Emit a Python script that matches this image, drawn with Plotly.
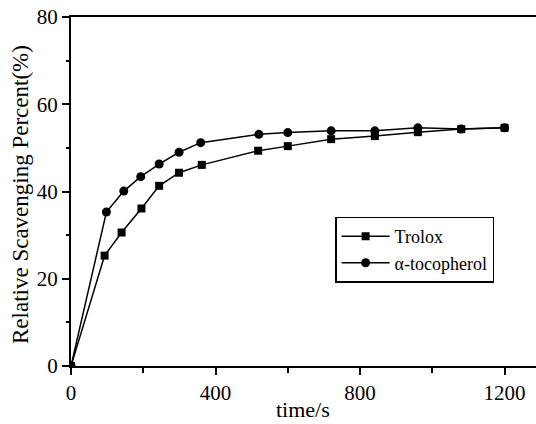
import plotly.graph_objects as go

trolox_t = [0, 93, 140, 195, 244, 299, 362, 518, 600, 720, 841, 960, 1080, 1200]
trolox_v = [0, 25.3, 30.6, 36.1, 41.3, 44.3, 46.1, 49.35, 50.4, 52.0, 52.7, 53.6, 54.3, 54.6]
toco_t = [0, 98, 146, 193, 244, 299, 359, 520, 600, 720, 841, 960, 1080, 1200]
toco_v = [0, 35.3, 40.1, 43.4, 46.3, 49.0, 51.2, 53.1, 53.5, 53.9, 53.9, 54.6, 54.3, 54.6]

font = "Liberation Serif"
fig = go.Figure()
fig.add_trace(go.Scatter(x=trolox_t, y=trolox_v, mode="lines+markers", name="Trolox",
                         line=dict(color="black", width=1.5),
                         marker=dict(symbol="square", size=8, color="black")))
fig.add_trace(go.Scatter(x=toco_t, y=toco_v, mode="lines+markers", name="α-tocopherol",
                         line=dict(color="black", width=1.5),
                         marker=dict(symbol="circle", size=9, color="black")))

fig.update_layout(
    width=536, height=424,
    margin=dict(l=71, r=0, t=17, b=58),
    paper_bgcolor="white", plot_bgcolor="white",
    font=dict(family=font, color="black"),
    showlegend=True,
    legend=dict(x=0.568, y=0.428, xanchor="left", yanchor="top",
                bordercolor="black", borderwidth=1.5, bgcolor="white",
                itemwidth=48,
                font=dict(size=18, family=font), tracegroupgap=2),
    xaxis=dict(range=[0, 1287], tickvals=[0, 400, 800, 1200],
               ticks="outside", ticklen=7, tickwidth=1.5, tickcolor="black",
               minor=dict(tickvals=[200, 600, 1000], ticks="outside", ticklen=5, tickwidth=1.5, tickcolor="black"),
               showline=True, linecolor="black", linewidth=2, mirror=True,
               showgrid=False, zeroline=False, automargin=False,
               tickfont=dict(size=21, family=font)),
    yaxis=dict(range=[0, 80], tickvals=[0, 20, 40, 60, 80],
               ticks="outside", ticklen=7, tickwidth=1.5, tickcolor="black",
               minor=dict(tickvals=[10, 30, 50, 70], ticks="outside", ticklen=3, tickwidth=1.5, tickcolor="black"),
               showline=True, linecolor="black", linewidth=2, mirror=False,
               showgrid=False, zeroline=False, automargin=False,
               tickfont=dict(size=21, family=font)),
    annotations=[
        dict(text="time/s", xref="paper", yref="paper", x=0.499, y=-0.126,
             xanchor="center", yanchor="middle", showarrow=False,
             font=dict(size=22, family=font)),
        dict(text="Relative Scavenging Percent(%)", xref="paper", yref="paper",
             x=-0.1075, y=0.49, xanchor="center", yanchor="middle", textangle=-90,
             showarrow=False, font=dict(size=23, family=font)),
    ],
)
fig.write_html("out.html", config={"displayModeBar": False},
               post_script="document.body.style.margin='0';")
